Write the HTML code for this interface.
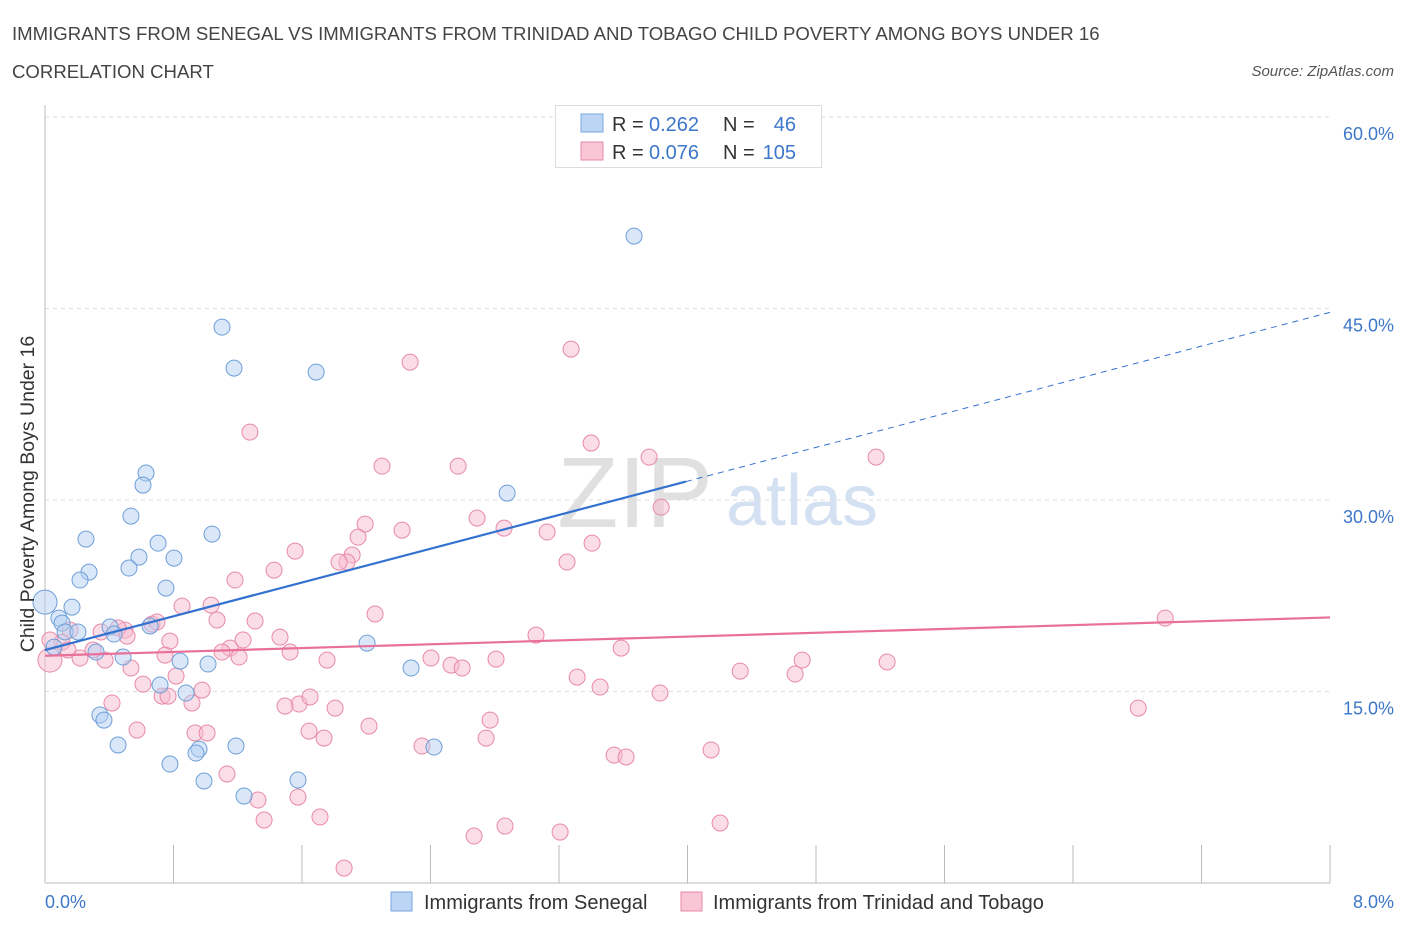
<!DOCTYPE html>
<html><head><meta charset="utf-8"><style>
body{margin:0;background:#fff;font-family:"Liberation Sans",sans-serif;}
svg text{font-family:"Liberation Sans",sans-serif;}
</style></head><body>
<svg id="chart" width="1406" height="930" xmlns="http://www.w3.org/2000/svg">
<text x="12" y="40" font-size="18.6" fill="#444">IMMIGRANTS FROM SENEGAL VS IMMIGRANTS FROM TRINIDAD AND TOBAGO CHILD POVERTY AMONG BOYS UNDER 16</text>
<text x="12" y="78" font-size="18.6" fill="#444">CORRELATION CHART</text>
<text x="1394" y="76" font-size="15" fill="#555" font-style="italic" text-anchor="end">Source: ZipAtlas.com</text>
<g>
<text x="635" y="527" font-size="100" font-family="Liberation Serif,serif" fill="#e0e0e0" text-anchor="middle">ZIP</text>
<text x="802" y="525" font-size="72" fill="#d3e1f2" text-anchor="middle">atlas</text>
</g>
<g id="grid"></g>
<g id="axes"></g>
<g id="marks"></g>
<text transform="translate(34,494) rotate(-90)" font-size="19.5" fill="#333" text-anchor="middle">Child Poverty Among Boys Under 16</text>
<text x="45" y="908" font-size="18" fill="#3d77c9">0.0%</text>
<text x="1394" y="908" font-size="18" fill="#3d77c9" text-anchor="end">8.0%</text>
<g>
<rect x="555.5" y="105.5" width="266" height="62" fill="#fff" stroke="#ddd"/>
<rect x="581" y="114" width="22" height="18" fill="#bcd5f5" stroke="#7aa6dc"/>
<rect x="581" y="142" width="22" height="18" fill="#f8c6d4" stroke="#e88aa8"/>
<text x="612" y="131" font-size="20" fill="#333">R =</text>
<text x="649" y="131" font-size="20" fill="#3d77c9">0.262</text>
<text x="723" y="131" font-size="20" fill="#333">N =</text>
<text x="796" y="131" font-size="20" fill="#3d77c9" text-anchor="end">46</text>
<text x="612" y="159" font-size="20" fill="#333">R =</text>
<text x="649" y="159" font-size="20" fill="#3d77c9">0.076</text>
<text x="723" y="159" font-size="20" fill="#333">N =</text>
<text x="796" y="159" font-size="20" fill="#3d77c9" text-anchor="end">105</text>
</g>
<g>
<rect x="391" y="892" width="21" height="19" fill="#bcd5f5" stroke="#7aa6dc"/>
<text x="424" y="909" font-size="20" fill="#333">Immigrants from Senegal</text>
<rect x="681" y="892" width="21" height="19" fill="#f8c6d4" stroke="#e88aa8"/>
<text x="713" y="909" font-size="20" fill="#333">Immigrants from Trinidad and Tobago</text>
</g>
</svg>
<script>
const yTicks=[15,30,45,60];
const xTickVals=[0,0.8,1.6,2.4,3.2,4.0,4.8,5.6,6.4,7.2,8.0];
const blueX=[3.667,1.102,1.177,1.688,2.877,0.629,0.610,0.535,0.255,0.704,1.040,0.585,0.803,0.274,0.523,0.218,0.753,0.168,0,0.087,0.106,0.125,0.205,0.405,0.430,0.654,0.056,0.318,0.486,0.841,1.015,2.005,2.279,0.716,0.878,0.342,0.367,0.455,1.189,0.959,0.940,0.778,0.990,1.575,1.239,2.422];
const blueY=[50.67,43.54,40.33,40.02,30.54,32.11,31.17,28.74,26.94,26.62,27.33,25.53,25.45,24.35,24.67,23.73,23.10,21.61,22.0,20.75,20.36,19.66,19.66,20.05,19.50,20.13,18.48,18.09,17.70,17.38,17.15,18.79,16.84,15.51,14.88,13.16,12.76,10.81,10.73,10.49,10.18,9.32,7.99,8.07,6.81,10.65];
const pinkX=[3.275,2.273,1.276,3.400,3.761,5.174,2.098,2.572,2.690,2.858,1.993,2.223,3.836,3.126,3.406,1.557,1.912,1.949,1.880,1.831,3.250,1.426,1.183,6.974,6.806,0.853,1.034,2.055,1.308,1.071,0.666,0.697,0.498,0.455,0.349,0.156,0.106,0.031,0.031,0.143,0.218,0.299,0.374,0.511,0.778,1.233,1.152,1.463,1.526,0.747,1.102,1.208,1.756,2.403,2.528,2.597,2.808,3.057,3.587,4.328,4.670,4.714,5.243,3.313,3.456,3.829,0.535,0.610,0.816,0.729,0.915,0.978,0.417,1.582,1.650,1.494,1.806,2.771,1.644,2.017,0.934,1.009,1.737,0.573,2.746,2.347,3.543,3.618,4.147,1.133,1.575,1.326,1.364,1.712,2.671,2.864,3.207,4.203,1.862,0.766];
const pinkY=[41.82,40.80,35.32,34.46,33.36,33.36,32.65,32.65,28.58,27.80,28.11,27.64,29.44,27.49,26.62,26.00,25.69,27.09,25.14,25.14,25.14,24.51,23.73,20.75,13.70,21.69,21.77,21.07,20.52,20.60,20.28,20.44,19.81,19.97,19.66,19.81,18.87,19.03,17.46,18.25,17.62,18.25,17.46,19.34,18.95,19.03,18.40,19.26,18.09,17.85,18.09,17.70,17.46,17.62,17.07,16.84,17.54,19.42,18.40,16.60,16.37,17.46,17.31,16.13,15.35,14.88,16.84,15.58,16.21,14.64,14.10,15.11,14.10,14.02,14.57,13.86,13.70,12.76,11.90,12.29,11.75,11.75,11.35,11.98,11.35,10.73,10.02,9.87,10.42,8.54,6.73,6.50,4.93,5.17,3.68,4.46,3.99,4.70,1.17,14.64];
const blueTrend=[18.25,44.7];
const pinkTrend=[17.8,20.8];
const NS='http://www.w3.org/2000/svg';
const X=v=>45+v*(1285/8);
const Y=v=>883-v*(766/60);
function mk(t,a,p){const e=document.createElementNS(NS,t);for(const k in a)e.setAttribute(k,a[k]);p.appendChild(e);return e;}
const grid=document.getElementById('grid'),axes=document.getElementById('axes'),marks=document.getElementById('marks');
yTicks.forEach(t=>{
 const l=mk('line',{x1:45,x2:1330,y1:Y(t),y2:Y(t),stroke:'#ddd','stroke-dasharray':'4,4'},grid);
 
 
 const tx=mk('text',{x:1394,y:Y(t)+23,'font-size':18,fill:'#3d77c9','text-anchor':'end'},axes);
 tx.textContent=t.toFixed(1)+'%';
 
 
});
const ya=mk('line',{x1:45,x2:45,y1:105,y2:883,stroke:'#bbb'},axes);


const xa=mk('line',{x1:45,x2:1330,y1:883,y2:883,stroke:'#bbb'},axes);


xTickVals.forEach(t=>{
 const l=mk('line',{x1:X(t),x2:X(t),y1:845,y2:883,stroke:'#bbb'},axes);
 
 
});
function pts(xs,ys,fill,stroke,name){
 xs.forEach((x,i)=>{
  const big=(x<0.05&&(ys[i]>21.5||ys[i]<17.6));
  const c=mk('circle',{cx:X(x),cy:Y(ys[i]),r:big?12:8,fill:fill,'fill-opacity':0.5,stroke:stroke,'stroke-width':1},marks);
  
  
 });
}
pts(pinkX,pinkY,'#f8bcd0','#e88aa8','point-trinidad');
pts(blueX,blueY,'#b4cff2','#6f9fd8','point-senegal');
const xm=3.99;
const bs=mk('line',{x1:X(0),y1:Y(blueTrend[0]),x2:X(xm),y2:Y(blueTrend[0]+(blueTrend[1]-blueTrend[0])*xm/8),stroke:'#3472d0','stroke-width':2.2},marks);


const bd=mk('line',{x1:X(xm),y1:Y(blueTrend[0]+(blueTrend[1]-blueTrend[0])*xm/8),x2:X(8),y2:Y(blueTrend[1]),stroke:'#3472d0','stroke-width':1,'stroke-dasharray':'6,5'},marks);


const pl=mk('line',{x1:X(0),y1:Y(pinkTrend[0]),x2:X(8),y2:Y(pinkTrend[1]),stroke:'#e8709a','stroke-width':2.2},marks);


</script>
</body></html>
